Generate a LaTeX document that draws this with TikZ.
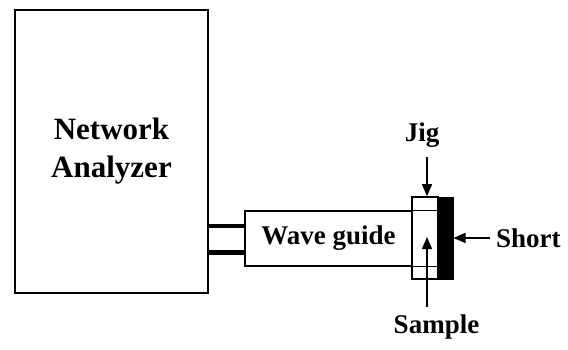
\documentclass[tikz,border=0pt]{standalone}
\usepackage{fontspec}
\setmainfont{Liberation Serif}
\usetikzlibrary{arrows.meta, positioning}

\begin{document}
\begin{tikzpicture}[
  x=1pt, y=-1pt,
  box/.style={draw, line width=1.6pt, inner sep=0pt},
  lbl/.style={font=\fontsize{27}{32}\selectfont\bfseries, inner sep=0pt},
  cable/.style={line width=4.5pt},
  pointer/.style={line width=1.5pt, -{Triangle[length=12pt, width=10pt]}},
  thin/.style={line width=1pt}
]
\useasboundingbox (0,0) rectangle (568,349);

% --- Instrument ---
\node[box, minimum width=193pt, minimum height=283pt, align=center,
      font=\fontsize{31}{38}\selectfont\bfseries] (NA) at (111.5,151.5)
  {Network\\Analyzer};

% --- Wave guide, jig and short ---
\node[box, minimum width=167pt, minimum height=55pt, lbl] (WG) at (328.5,238.5)
  {Wave guide};
\node[box, minimum width=26pt, minimum height=82pt] (Jig) at (425,238) {};
\node[draw, fill=black, line width=1pt, minimum width=15pt, minimum height=82pt,
      inner sep=0pt] (Short) at (445.5,238) {};
\draw[thin] (WG.north east) -- (WG.north east -| Jig.east);
\draw[thin] (WG.south east) -- (WG.south east -| Jig.east);

% --- Cables ---
\coordinate (p1) at ([yshift=12.5pt]WG.west);
\coordinate (p2) at ([yshift=-14pt]WG.west);
\draw[cable] (p1) -- (p1 -| NA.east);
\draw[cable] (p2) -- (p2 -| NA.east);

% --- Labels and pointers ---
\node[lbl] (JigLbl) at (422,135) {Jig};
\coordinate (jigtail) at (427,157);
\draw[pointer] (jigtail) -- (jigtail |- Jig.north);

\node[lbl, anchor=west] (ShortLbl) at (496,238) {Short};
\draw[pointer] (ShortLbl.west) ++(-6,0) coordinate (shorttail) -- (shorttail -| Short.east);

\node[lbl] (SampleLbl) at (436.5,327) {Sample};
\coordinate (sampletail) at (427,307);
\draw[pointer] (sampletail) -- (427,237);

\end{tikzpicture}
\end{document}
